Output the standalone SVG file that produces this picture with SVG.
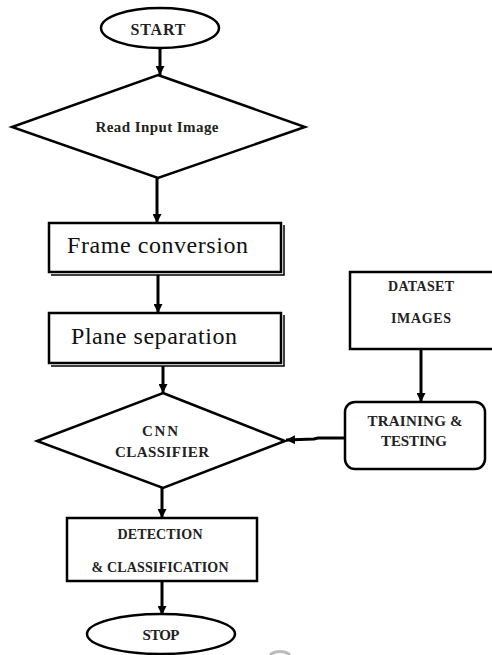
<svg xmlns="http://www.w3.org/2000/svg" width="492" height="655" viewBox="0 0 492 655">
<style>
.s{fill:#fff;stroke:#000;stroke-width:2.5}
.sh{fill:none;stroke:#000;stroke-width:1.5}
.c{fill:none;stroke:#000;stroke-width:3}
.b{font-family:"Liberation Serif","Times New Roman",serif;font-weight:bold;fill:#222;text-anchor:middle}
.n{font-family:"Liberation Serif","Times New Roman",serif;fill:#111}
</style>
<defs>
<marker id="ah" viewBox="0 0 10 10" refX="10" refY="5" markerWidth="3" markerHeight="3" orient="auto" markerUnits="strokeWidth">
<path d="M0,0 L10,5 L0,10 Z" fill="#000"/>
</marker>
</defs>
<rect width="492" height="655" fill="#fff"/>
<g id="connectors">
<line class="c" x1="160" y1="48" x2="160" y2="75" marker-end="url(#ah)"/>
<line class="c" x1="157" y1="178" x2="157" y2="223" marker-end="url(#ah)"/>
<line class="c" x1="158" y1="275" x2="158" y2="313" marker-end="url(#ah)"/>
<line class="c" x1="163" y1="366" x2="163" y2="393" marker-end="url(#ah)"/>
<line class="c" x1="162" y1="488" x2="162" y2="518" marker-end="url(#ah)"/>
<line class="c" x1="162" y1="581" x2="162" y2="615" marker-end="url(#ah)"/>
<line class="c" x1="421" y1="349" x2="421" y2="402" marker-end="url(#ah)"/>
<polyline class="c" points="345,438 318,438 314,439 286,440" marker-end="url(#ah)"/>
</g>
<g id="start">
<ellipse class="s" cx="160" cy="28" rx="59" ry="20"/>
<text class="b" x="158" y="35" font-size="16" textLength="55">START</text>
</g>
<g id="read">
<polygon class="s" points="158,75 305,127 158,178 12,127"/>
<text class="b" x="157" y="132" font-size="15" textLength="123">Read Input Image</text>
</g>
<g id="frame">
<rect class="s" x="49" y="223" width="232" height="49"/>
<polyline class="sh" points="284,225 284,275 51,275"/>
<text class="n" x="67" y="253" font-size="24" textLength="181">Frame conversion</text>
</g>
<g id="plane">
<rect class="s" x="49" y="313" width="232" height="50"/>
<polyline class="sh" points="284,315 284,366 51,366"/>
<text class="n" x="71" y="344" font-size="24" textLength="166">Plane separation</text>
</g>
<g id="dataset">
<rect class="s" x="350" y="272" width="150" height="77"/>
<text class="b" x="421" y="291" font-size="14" textLength="66">DATASET</text>
<text class="b" x="421" y="323" font-size="14" textLength="60">IMAGES</text>
</g>
<g id="training">
<rect class="s" x="345" y="402" width="140" height="67" rx="10" ry="10"/>
<text class="b" x="415" y="426" font-size="15" textLength="95">TRAINING &amp;</text>
<text class="b" x="414" y="446" font-size="15" textLength="66">TESTING</text>
</g>
<g id="cnn">
<polygon class="s" points="163,393 285,441 163,488 37,441"/>
<text class="b" x="160" y="436" font-size="15" textLength="36">CNN</text>
<text class="b" x="162" y="457" font-size="15" textLength="94">CLASSIFIER</text>
</g>
<g id="detection">
<rect class="s" x="67" y="518" width="190" height="63"/>
<text class="b" x="160" y="539" font-size="14" textLength="85">DETECTION</text>
<text class="b" x="160" y="572" font-size="14" textLength="137">&amp; CLASSIFICATION</text>
</g>
<g id="stop">
<ellipse class="s" cx="161" cy="634" rx="74" ry="20"/>
<text class="b" x="161" y="640" font-size="15" textLength="37">STOP</text>
</g>
<path d="M270,655 A12,8 0 0 1 290,655" fill="none" stroke="#bbb" stroke-width="3"/>
</svg>
